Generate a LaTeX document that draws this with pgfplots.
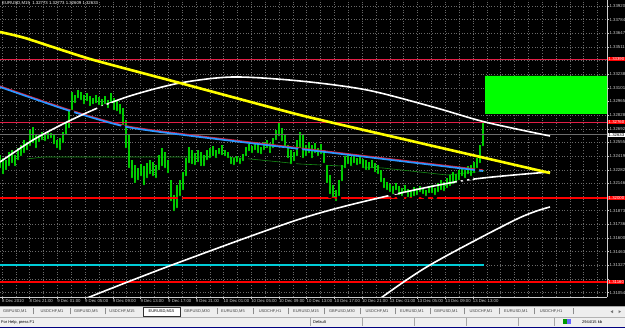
\documentclass[border=0pt]{standalone}
\usepackage{fontspec}
\setmainfont{Liberation Sans}
\usepackage{pgfplots}
\pgfplotsset{compat=1.18}
\usepackage{pgfplotstable}

\definecolor{gridcol}{RGB}{105,105,105}
\definecolor{barcol}{RGB}{0,205,0}
\definecolor{ylw}{RGB}{255,255,0}
\definecolor{bluel}{RGB}{45,150,255}
\definecolor{redmid}{RGB}{215,30,60}
\definecolor{redthin}{RGB}{225,30,70}
\definecolor{redthick}{RGB}{255,0,0}
\definecolor{cyanl}{RGB}{0,205,215}
\definecolor{boxgreen}{RGB}{0,255,0}
\definecolor{labgrey}{RGB}{205,205,205}
\definecolor{tabbg}{RGB}{238,238,238}
\definecolor{statbg}{RGB}{240,240,240}
\definecolor{curgrey}{RGB}{110,110,110}
\definecolor{mag}{RGB}{20,140,20}

\newcommand{\tf}{\fontsize{4.3}{5}\selectfont}

% M15 price bars: pixel-column x, low, high
\pgfplotstableread{
x lo hi
0 1.3228 1.3243
3 1.3222 1.3240
6 1.3226 1.3238
9 1.3230 1.3246
12 1.3233 1.3248
15 1.3230 1.3243
18 1.3236 1.3250
21 1.3240 1.3253
24 1.3243 1.3258
27 1.3246 1.3256
30 1.3250 1.3268
33 1.3253 1.3271
36 1.3248 1.3263
39 1.3254 1.3264
42 1.3256 1.3266
45 1.3255 1.3263
48 1.3257 1.3267
51 1.3258 1.3265
54 1.3252 1.3263
57 1.3248 1.3258
60 1.3246 1.3260
63 1.3253 1.3266
66 1.3261 1.3276
69 1.3268 1.3288
72 1.3286 1.3306
75 1.3293 1.3303
78 1.3298 1.3308
81 1.3296 1.3306
84 1.3292 1.3303
87 1.3295 1.3305
90 1.3290 1.3302
93 1.3292 1.3300
96 1.3293 1.3303
99 1.3291 1.3301
102 1.3290 1.3299
105 1.3292 1.3302
108 1.3288 1.3298
111 1.3293 1.3305
114 1.3286 1.3300
117 1.3285 1.3298
120 1.3282 1.3294
123 1.3271 1.3290
126 1.3248 1.3278
129 1.3228 1.3263
132 1.3218 1.3238
135 1.3213 1.3233
138 1.3216 1.3230
141 1.3220 1.3234
144 1.3211 1.3232
147 1.3218 1.3235
150 1.3222 1.3238
153 1.3220 1.3236
156 1.3218 1.3233
159 1.3226 1.3243
162 1.3230 1.3250
165 1.3228 1.3246
168 1.3223 1.3238
171 1.3195 1.3218
174 1.3185 1.3203
177 1.3188 1.3213
180 1.3200 1.3218
183 1.3206 1.3226
186 1.3220 1.3240
189 1.3233 1.3251
192 1.3232 1.3248
195 1.3231 1.3245
198 1.3234 1.3248
201 1.3230 1.3246
204 1.3230 1.3243
207 1.3236 1.3248
210 1.3238 1.3250
213 1.3240 1.3252
216 1.3238 1.3248
219 1.3242 1.3250
222 1.3241 1.3253
225 1.3240 1.3248
228 1.3238 1.3246
231 1.3232 1.3241
234 1.3231 1.3240
237 1.3234 1.3242
240 1.3232 1.3240
243 1.3235 1.3244
246 1.3240 1.3251
249 1.3245 1.3254
252 1.3243 1.3252
255 1.3246 1.3255
258 1.3243 1.3253
261 1.3242 1.3251
264 1.3246 1.3256
267 1.3248 1.3258
270 1.3243 1.3255
273 1.3248 1.3260
276 1.3256 1.3268
279 1.3260 1.3275
282 1.3255 1.3270
285 1.3248 1.3263
288 1.3238 1.3253
291 1.3232 1.3248
294 1.3235 1.3246
297 1.3240 1.3258
300 1.3248 1.3266
303 1.3238 1.3263
306 1.3240 1.3253
309 1.3243 1.3256
312 1.3238 1.3253
315 1.3243 1.3255
318 1.3240 1.3250
321 1.3242 1.3254
324 1.3233 1.3248
327 1.3213 1.3233
330 1.3202 1.3223
333 1.3198 1.3213
336 1.3195 1.3208
339 1.3200 1.3218
342 1.3215 1.3233
345 1.3228 1.3242
348 1.3232 1.3244
351 1.3230 1.3241
354 1.3233 1.3243
357 1.3231 1.3240
360 1.3232 1.3242
363 1.3228 1.3239
366 1.3226 1.3238
369 1.3226 1.3236
372 1.3228 1.3238
375 1.3224 1.3235
378 1.3222 1.3233
381 1.3214 1.3228
384 1.3208 1.3220
387 1.3206 1.3216
390 1.3204 1.3214
393 1.3202 1.3212
396 1.3206 1.3215
399 1.3201 1.3212
402 1.3200 1.3210
405 1.3203 1.3213
408 1.3199 1.3209
411 1.3198 1.3208
414 1.3200 1.3211
417 1.3201 1.3210
420 1.3204 1.3212
423 1.3202 1.3210
426 1.3200 1.3208
429 1.3203 1.3211
432 1.3203 1.3213
435 1.3201 1.3210
438 1.3204 1.3215
441 1.3206 1.3218
444 1.3205 1.3216
447 1.3208 1.3220
450 1.3210 1.3223
453 1.3212 1.3226
456 1.3213 1.3224
459 1.3216 1.3228
462 1.3220 1.3230
465 1.3218 1.3228
468 1.3222 1.3232
471 1.3220 1.3233
474 1.3223 1.3236
477 1.3228 1.3240
480 1.3233 1.3253
483 1.3250 1.3275
}\bars

\begin{document}
\begin{tikzpicture}[x=1pt,y=1pt]
\useasboundingbox (0,0) rectangle (625,328);
\clip (0,0) rectangle (625,328);
\fill[black] (0,22) rectangle (625,328);
\begin{axis}[
  at={(0pt,31pt)}, anchor=south west,
  width=607pt, height=297pt, scale only axis,
  xmin=0, xmax=607, ymin=1.3101, ymax=1.3398,
  axis background/.style={fill=black},
  axis x line*=bottom, axis y line*=right,
  axis line style={draw=labgrey, line width=0.6pt},
  tick align=outside, major tick length=2pt, minor tick length=0pt,
  tick style={draw=labgrey, line width=0.5pt},
  xtick={2,29.7,57.4,85.1,112.8,140.5,168.2,195.9,223.6,251.3,279,306.7,334.4,362.1,389.8,417.5,445.2,472.9},
  xticklabels={8 Dec 2010,8 Dec 21:00,9 Dec 01:00,9 Dec 05:00,9 Dec 09:00,9 Dec 13:00,9 Dec 17:00,9 Dec 21:00,10 Dec 01:00,10 Dec 05:00,10 Dec 09:00,10 Dec 13:00,10 Dec 17:00,10 Dec 21:00,13 Dec 01:00,13 Dec 05:00,13 Dec 09:00,13 Dec 13:00},
  minor xtick={15.85,43.55,71.25,98.95,126.65,154.35,182.05,209.75,237.45,265.15,292.85,320.55,348.25,375.95,403.65,431.35,459.05,486.75,500.6,514.45,528.3,542.15,556,569.85,583.7,597.55},
  ytick={1.33920,1.33784,1.33647,1.33511,1.33374,1.33238,1.33101,1.32965,1.32828,1.32692,1.32555,1.32419,1.32282,1.32146,1.32009,1.31873,1.31736,1.31600,1.31463,1.31327,1.31190,1.31054},
  yticklabels={1.33920,1.33784,1.33647,1.33511,{},1.33238,1.33101,1.32965,1.32828,1.32692,1.32555,1.32419,1.32282,1.32146,{},1.31873,1.31736,1.31600,1.31463,1.31327,{},1.31054},
  xticklabel style={font=\tf, text=labgrey, anchor=north west, inner sep=0.3pt, xshift=-0.5pt},
  yticklabel style={font=\tf, text=labgrey, anchor=west, inner sep=0.4pt},
  grid=both,
  major grid style={draw=gridcol, dash pattern=on 1pt off 1.7pt, line width=0.5pt},
  minor grid style={draw=gridcol, dash pattern=on 1pt off 1.7pt, line width=0.5pt},
]
% green target box
\addplot[fill=boxgreen, draw=none, forget plot] coordinates {(485,1.3284) (485,1.3322) (607,1.3322) (607,1.3284) (485,1.3284)};
% thin green moving average
\addplot[mag, line width=0.6pt, forget plot] coordinates {(27,1.3239) (43,1.3241) (230,1.3241) (300,1.3234) (383,1.3230) (447,1.3223) (485,1.3227)};
% price bars
\addplot[only marks, mark=none, forget plot,
  error bars/.cd, y dir=plus, y explicit, error mark=none,
  error bar style={draw=barcol, line width=1.25pt}]
  table[x=x, y=lo, y error plus expr=\thisrow{hi}-\thisrow{lo}, y error minus expr=0] {\bars};
% current price line
\addplot[curgrey, line width=0.7pt, forget plot] coordinates {(0,1.32633) (607,1.32633)};
% thin red levels
\addplot[redthin, line width=0.9pt, forget plot] coordinates {(0,1.3339) (607,1.3339)};
\addplot[redthin, line width=0.9pt, forget plot] coordinates {(0,1.3276) (607,1.3276)};
% thick red levels
\addplot[redthick, line width=2.2pt, forget plot] coordinates {(0,1.3200) (607,1.3200)};
\addplot[redthick, line width=2.2pt, forget plot] coordinates {(0,1.3116) (607,1.3116)};
% cyan level
\addplot[cyanl, line width=2.8pt, forget plot] coordinates {(0,1.3133) (484,1.3133)};
% red + blue moving averages
\addplot[redmid, line width=1.2pt, smooth, tension=0.4, forget plot] coordinates {(0,1.3312) (67,1.3289) (127,1.3272) (200,1.3262) (300,1.3250) (483,1.3228)};
\addplot[bluel, line width=1.7pt, smooth, tension=0.4, forget plot] coordinates {(0,1.3311) (67,1.3288) (127,1.3271) (200,1.3261) (300,1.3249) (483,1.3227)};
% white channel curves
\addplot[white, line width=1.6pt, smooth, forget plot] coordinates {(0,1.3236) (33,1.3258) (67,1.3276) (100,1.3291) (133,1.3303) (180,1.3315) (233,1.3321) (300,1.3317) (367,1.3308) (433,1.3291) (485,1.3276) (550,1.3262)};
\addplot[white, line width=1.6pt, smooth, forget plot] coordinates {(74,1.3094) (82,1.3098) (172,1.3133) (300,1.3179) (383,1.3201) (467,1.3218) (550,1.3226)};
\addplot[white, line width=1.6pt, smooth, forget plot] coordinates {(374,1.3094) (378,1.3098) (430,1.3133) (517,1.3179) (550,1.3191)};
% yellow trend line
\addplot[ylw, line width=2.6pt, smooth, tension=0.3, forget plot] coordinates {(0,1.3366) (25,1.3360) (90,1.3339) (180,1.3315) (300,1.3283) (420,1.3255) (550,1.3225)};
\end{axis}
% title
\node[anchor=north west, font=\tf, text=white, inner sep=0] at (2,326.5) {EURUSD,M15\ \ 1.32773 1.32773 1.32609 1.32633};
% price labels of levels
\node[fill=redthick, text=white, font=\tf, anchor=west, inner sep=0.5pt] at (608,269) {1.33390};
\node[fill=redthick, text=white, font=\tf, anchor=west, inner sep=0.5pt] at (608,206) {1.32760};
\node[fill=white, text=black, font=\tf, anchor=west, inner sep=0.5pt] at (608,193.3) {1.32633};
\node[fill=redthick, text=white, font=\tf, anchor=west, inner sep=0.5pt] at (608,130) {1.32000};
\node[fill=redthick, text=white, font=\tf, anchor=west, inner sep=0.5pt] at (608,46) {1.31160};
% tab row
\fill[tabbg] (0,11) rectangle (625,22);
\draw[black!35, line width=0.4pt] (0,21.8) -- (625,21.8);
\filldraw[fill=white, draw=black!80, line width=0.5pt] (143,11.8) rectangle (180,20.8);
\begin{scope}[font=\fontsize{4}{5}\selectfont, text=black!75]
\node at (15,16.3) {GBPUSD,M1};
\node at (52,16.3) {USDCHF,M1};
\node at (86,16.3) {GBPUSD,M5};
\node at (122,16.3) {USDCHF,M15};
\node[text=black] at (161.5,16.3) {EURUSD,M15};
\node at (197,16.3) {GBPUSD,M30};
\node at (233,16.3) {EURUSD,M5};
\node at (270,16.3) {USDCHF,H1};
\node at (306,16.3) {EURUSD,M15};
\node at (342,16.3) {GBPUSD,M30};
\node at (377,16.3) {USDCHF,M1};
\node at (412,16.3) {EURUSD,M1};
\node at (446,16.3) {GBPUSD,M1};
\node at (481,16.3) {USDCHF,M1};
\node at (516,16.3) {EURUSD,M1};
\node at (551,16.3) {USDCHF,H1};
\end{scope}
\foreach \s in {33,70,105,217,253,288,324,360,395,430,464,499,534,573}
  \draw[black!45, line width=0.4pt] (\s,13.5) -- (\s,19.5);
\fill[black!55] (610.5,16.3) -- (613,17.8) -- (613,14.8) -- cycle;
\fill[black!55] (621,16.3) -- (618.5,17.8) -- (618.5,14.8) -- cycle;
% status bar
\fill[statbg] (0,0) rectangle (625,11);
\draw[black!30, line width=0.4pt] (0,11) -- (625,11);
\node[anchor=west, font=\fontsize{4}{5}\selectfont, inner sep=0] at (1,5.8) {For Help, press F1};
\node[anchor=west, font=\fontsize{4}{5}\selectfont, inner sep=0] at (313,5.8) {Default};
\foreach \s in {310,362,414,466,518,554}
  \draw[black!35, line width=0.4pt] (\s,2) -- (\s,10);
\fill[green!60!black] (563,3.5) rectangle (567,8.5);
\fill[blue!60] (567,3.5) rectangle (571,8.5);
\node[anchor=west, font=\fontsize{4}{5}\selectfont, inner sep=0] at (582,5.8) {2944/15 kb};
\fill[blue!50!black] (0,0) rectangle (625,0.8);
\end{tikzpicture}
\end{document}
